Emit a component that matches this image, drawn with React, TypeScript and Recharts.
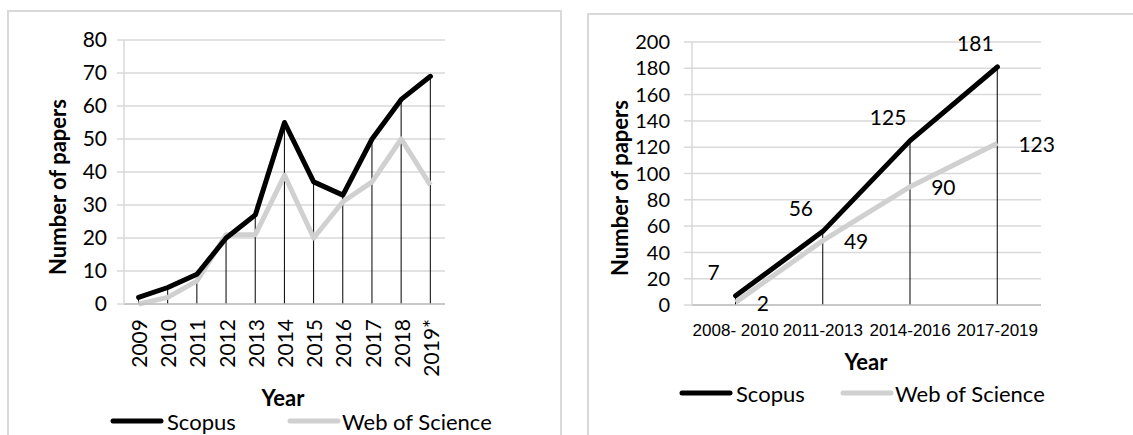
import { Bar, CartesianGrid, ComposedChart, Label, LabelList, Line, XAxis, YAxis } from 'recharts';

// yearly counts (left chart)
const years = ['2009', '2010', '2011', '2012', '2013', '2014', '2015', '2016', '2017', '2018', '2019*'];
const scopusYearly = [2, 5, 9, 20, 27, 55, 37, 33, 50, 62, 69];
const wosYearly = [0, 2, 7, 21, 21, 39, 20, 31, 37, 50, 36];
const yearlyTicks = [0, 10, 20, 30, 40, 50, 60, 70, 80];

// three-year totals (right chart)
const periods = ['2008- 2010', '2011-2013', '2014-2016', '2017-2019'];
const scopusPeriod = [7, 56, 125, 181];
const wosPeriod = [2, 49, 90, 123];
const periodTicks = [0, 20, 40, 60, 80, 100, 120, 140, 160, 180, 200];

const yearlyData = years.map((year, i) => ({
  year,
  scopus: scopusYearly[i],
  wos: wosYearly[i],
  drop: Math.max(scopusYearly[i], wosYearly[i]),
}));

const periodData = periods.map((period, i) => ({
  period,
  scopus: scopusPeriod[i],
  wos: wosPeriod[i],
  drop: Math.max(scopusPeriod[i], wosPeriod[i]),
}));

const CAL = 'Lato, "Open Sans", sans-serif';
const GRID = '#d9d9d9';
const WOS_GRAY = '#d0d0d0';
const FS = 21;

const RotatedTick = ({ x, y, payload }: any) => {
  const ty = y + 13;
  return (
    <text
      x={x}
      y={ty}
      transform={`rotate(-90 ${x} ${ty})`}
      textAnchor="end"
      dominantBaseline="central"
      fontFamily={CAL}
      fontSize={FS}
      fill="#000"
    >
      {payload.value}
    </text>
  );
};

const PeriodTick = ({ x, y, payload }: any) => (
  <text
    x={x}
    y={y + 23}
    textAnchor="middle"
    dominantBaseline="central"
    fontFamily='"Liberation Sans", Arial, sans-serif'
    fontSize={17}
    fill="#000"
  >
    {payload.value}
  </text>
);

const axisTitle = (text: string, x: number, y: number, rotate: boolean) => () => (
  <text
    x={x}
    y={y}
    transform={rotate ? `rotate(-90 ${x} ${y})` : undefined}
    textAnchor="middle"
    dominantBaseline="central"
    fontFamily={CAL}
    fontWeight="bold"
    fontSize={22}
    fill="#000"
  >
    {text}
  </text>
);

const scopusLabel = ({ x, y, value }: any) => (
  <text x={x - 22} y={y - 24} textAnchor="middle" dominantBaseline="central" fontFamily={CAL} fontSize={FS} fill="#000">
    {value}
  </text>
);

const wosLabel = ({ x, y, value }: any) => (
  <text x={x + 21} y={y} textAnchor="start" dominantBaseline="central" fontFamily={CAL} fontSize={FS} fill="#000">
    {value}
  </text>
);

function LegendRow({ left, top, gap }: { left: number; top: number; gap: number }) {
  return (
    <svg style={{ position: 'absolute', left, top }} width={440} height={30}>
      <line x1={3} y1={15} x2={51} y2={15} stroke="#000" strokeWidth={5} strokeLinecap="round" />
      <text x={57} y={15} dominantBaseline="central" fontFamily={CAL} fontSize={22} fill="#000">
        Scopus
      </text>
      <line x1={gap + 3} y1={15} x2={gap + 51} y2={15} stroke={WOS_GRAY} strokeWidth={5} strokeLinecap="round" />
      <text x={gap + 55} y={15} dominantBaseline="central" fontFamily={CAL} fontSize={22} fill="#000">
        Web of Science
      </text>
    </svg>
  );
}

export default function App() {
  return (
    <div style={{ position: 'absolute', left: 0, top: 0, width: 1133, height: 435, overflow: 'hidden', background: '#fff' }}>
      <div style={{ position: 'absolute', left: 7, top: 10, width: 555, height: 460, border: `2px solid ${GRID}`, boxSizing: 'border-box' }} />
      <div style={{ position: 'absolute', left: 587, top: 13, width: 600, height: 460, border: `2px solid ${GRID}`, boxSizing: 'border-box' }} />

      <div style={{ position: 'absolute', left: 0, top: 0 }}>
        <ComposedChart width={560} height={435} data={yearlyData} margin={{ top: 40, right: 115, bottom: 71, left: 64 }}>
          <CartesianGrid horizontal vertical={false} stroke={GRID} strokeWidth={1.5} />
          <XAxis
            dataKey="year"
            height={60}
            interval={0}
            tickLine={false}
            tickSize={0}
            axisLine={{ stroke: '#bfbfbf', strokeWidth: 1.5 }}
            tick={<RotatedTick />}
          >
            <Label content={axisTitle('Year', 283, 397, false)} />
          </XAxis>
          <YAxis
            width={60}
            domain={[0, 80]}
            ticks={yearlyTicks}
            interval={0}
            tickSize={7}
            tickMargin={10}
            axisLine={{ stroke: GRID, strokeWidth: 1.5 }}
            tickLine={{ stroke: GRID, strokeWidth: 1.5 }}
            tick={{ fill: '#000', fontSize: FS, fontFamily: CAL }}
          >
            <Label content={axisTitle('Number of papers', 57, 187, true)} />
          </YAxis>
          <Line dataKey="wos" stroke={WOS_GRAY} strokeWidth={5} dot={false} strokeLinejoin="round" isAnimationActive={false} />
          <Line dataKey="scopus" stroke="#000" strokeWidth={5} dot={false} strokeLinejoin="round" strokeLinecap="round" isAnimationActive={false} />
          <Bar dataKey="drop" barSize={1} fill="#000" isAnimationActive={false} />
        </ComposedChart>
        <LegendRow left={110} top={406} gap={177} />
      </div>

      <div style={{ position: 'absolute', left: 560, top: 0 }}>
        <ComposedChart width={573} height={435} data={periodData} margin={{ top: 42, right: 92, bottom: 70, left: 72 }}>
          <CartesianGrid horizontal vertical={false} stroke={GRID} strokeWidth={1.5} />
          <XAxis
            dataKey="period"
            height={60}
            interval={0}
            tickLine={false}
            tickSize={0}
            axisLine={{ stroke: '#bfbfbf', strokeWidth: 1.5 }}
            tick={<PeriodTick />}
          >
            <Label content={axisTitle('Year', 306, 361, false)} />
          </XAxis>
          <YAxis
            width={60}
            domain={[0, 200]}
            ticks={periodTicks}
            interval={0}
            tickSize={8}
            tickMargin={14}
            axisLine={{ stroke: GRID, strokeWidth: 1.5 }}
            tickLine={{ stroke: GRID, strokeWidth: 1.5 }}
            tick={{ fill: '#000', fontSize: 20, fontFamily: CAL }}
          >
            <Label content={axisTitle('Number of papers', 59, 188, true)} />
          </YAxis>
          <Line dataKey="wos" stroke={WOS_GRAY} strokeWidth={5} dot={false} strokeLinejoin="round" isAnimationActive={false}>
            <LabelList dataKey="wos" content={wosLabel} />
          </Line>
          <Line dataKey="scopus" stroke="#000" strokeWidth={5} dot={false} strokeLinejoin="round" strokeLinecap="round" isAnimationActive={false}>
            <LabelList dataKey="scopus" content={scopusLabel} />
          </Line>
          <Bar dataKey="drop" barSize={1} fill="#000" isAnimationActive={false} />
        </ComposedChart>
        <LegendRow left={119} top={378} gap={161} />
      </div>
    </div>
  );
}
